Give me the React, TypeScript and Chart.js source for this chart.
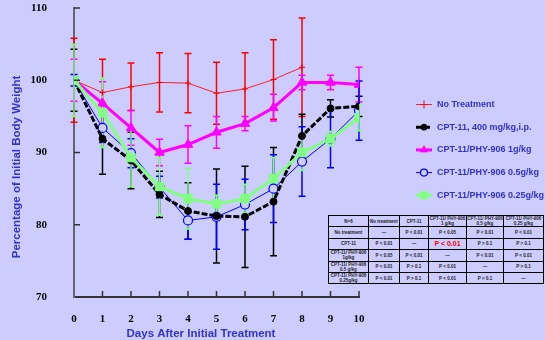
import React, { useEffect, useRef } from 'react';
import { Chart, registerables } from 'chart.js';
import { drawPoint } from 'chart.js/helpers';

Chart.register(...registerables);

// ---- data ----
const days = [0, 1, 2, 3, 4, 5, 6, 7, 8, 9, 10];
const yTickValues = [70, 80, 90, 100, 110];

const seriesNames = [
  'No Treatment',
  'CPT-11, 400 mg/kg,i.p.',
  'CPT-11/PHY-906 1g/kg',
  'CPT-11/PHY-906 0.5g/kg',
  'CPT-11/PHY-906 0.25g/kg',
];

const noTreatment = [100, 98.3, 99.1, 99.7, 99.6, 98.2, 98.8, 100.1, 101.8, null, null];
const noTreatmentErr = [5.8, 4.6, 3.3, 4.1, 4.1, 4.3, 5.0, 5.5, 6.8, null, null];
const cpt11 = [100, 91.9, 88.9, 84.2, 81.9, 81.2, 81.1, 83.2, 92.3, 96.1, 96.4];
const cpt11Err = [4.3, 4.9, 3.9, 3.2, 3.9, 6.5, 7.0, 7.5, 3.0, 1.2, 1.4];
const phy1g = [100, 96.8, 93.4, 90.0, 91.1, 92.8, 94.0, 96.2, 99.7, 99.7, 99.4];
const phy1gErr = [2.9, 3.0, 2.4, 1.85, 2.6, 2.2, 1.0, 1.85, 1.0, 1.0, 2.4];
const phy05 = [100, 93.4, 89.9, 85.2, 80.6, 81.1, 82.8, 85.0, 88.75, 91.9, 95.8];
const phy05Err = [0.8, 2.0, 2.0, 1.5, 2.6, 4.5, 3.5, 4.7, 4.8, 4.0, 4.1];
const phy025 = [100, 95.5, 89.3, 85.3, 83.6, 82.9, 83.6, 86.4, 90.0, 91.9, 94.8];
const phy025Err = [5.0, 4.8, 4.0, 4.0, 4.2, 1.2, 2.0, 2.9, 2.5, 1.0, 1.8];

const tableHeader = ['N=6', 'No treatment', 'CPT-11', 'CPT-11/ PHY-906 1 g/kg', 'CPT-11/ PHY-906 0.5 g/kg', 'CPT-11/ PHY-906 0.25 g/kg'];
const tableRows = [
  ['No treatment', '—', 'P < 0.01', 'P < 0.05', 'P < 0.01', 'P < 0.01'],
  ['CPT-11', 'P < 0.01', '—', 'P < 0.01', 'P > 0.1', 'P > 0.1'],
  ['CPT-11/ PHY-906 1g/kg', 'P < 0.05', 'P < 0.01', '—', 'P < 0.01', 'P < 0.01'],
  ['CPT-11/ PHY-906 0.5 g/kg', 'P < 0.01', 'P > 0.1', 'P < 0.01', '—', 'P > 0.1'],
  ['CPT-11/ PHY-906 0.25g/kg', 'P < 0.01', 'P > 0.1', 'P < 0.01', 'P > 0.1', '—'],
];

const BG = '#ccccff';
const TITLE_BLUE = '#3333cc';

const toXY = (vals: (number | null)[]) => days.map((d, i) => ({ x: d, y: vals[i] }));

const errorBarPlugin = {
  id: 'errorBars',
  beforeDatasetsDraw(chart: any) {
    const { ctx, scales } = chart;
    const xs = scales.x;
    const ys = scales.y;
    chart.data.datasets.forEach((ds: any) => {
      const errs = ds.errors as (number | null)[];
      if (!errs) return;
      ctx.save();
      ctx.strokeStyle = ds.errorColor;
      ctx.lineWidth = ds.errorWidth || 1.5;
      ds.data.forEach((p: any, i: number) => {
        const e = errs[i];
        if (p.y == null || e == null) return;
        const x = xs.getPixelForValue(p.x);
        const y1 = ys.getPixelForValue(p.y + e);
        const y2 = ys.getPixelForValue(p.y - e);
        ctx.beginPath();
        ctx.moveTo(x, y1);
        ctx.lineTo(x, y2);
        ctx.moveTo(x - 3.5, y1);
        ctx.lineTo(x + 3.5, y1);
        ctx.moveTo(x - 3.5, y2);
        ctx.lineTo(x + 3.5, y2);
        ctx.stroke();
      });
      ctx.restore();
    });
  },
};

const decorPlugin = {
  id: 'decor',
  beforeDraw(chart: any) {
    const { ctx, width, height } = chart;
    ctx.save();
    ctx.fillStyle = BG;
    ctx.fillRect(0, 0, width, height);
    ctx.restore();
  },
  afterDraw(chart: any) {
    const { ctx, scales, chartArea } = chart;
    const xs = scales.x;
    const ys = scales.y;
    ctx.save();
    // inward ticks
    ctx.strokeStyle = '#333';
    ctx.lineWidth = 1.5;
    yTickValues.forEach((v) => {
      if (v === 70) return;
      const y = ys.getPixelForValue(v);
      ctx.beginPath();
      ctx.moveTo(chartArea.left, y);
      ctx.lineTo(chartArea.left + 6, y);
      ctx.stroke();
    });
    days.forEach((d) => {
      if (d === 0) return;
      const x = xs.getPixelForValue(d);
      ctx.beginPath();
      ctx.moveTo(x, chartArea.bottom);
      ctx.lineTo(x, chartArea.bottom - 6);
      ctx.stroke();
    });

    // axis titles
    ctx.fillStyle = TITLE_BLUE;
    ctx.font = "bold 11.5px 'Liberation Sans', Arial, sans-serif";
    ctx.textAlign = 'center';
    ctx.textBaseline = 'middle';
    ctx.fillText('Days After Initial Treatment', 201, 334);
    ctx.save();
    ctx.translate(16.5, 167);
    ctx.rotate(-Math.PI / 2);
    ctx.fillText('Percentage of Initial Body Weight', 0, 0);
    ctx.restore();

    // legend
    const lx0 = 416;
    const lx1 = 432;
    const tx = 437;
    chart.data.datasets.forEach((ds: any, i: number) => {
      const y = 104.5 + i * 22.7;
      ctx.save();
      ctx.strokeStyle = ds.borderColor;
      ctx.lineWidth = ds.borderWidth;
      ctx.setLineDash(ds.borderDash || []);
      ctx.beginPath();
      ctx.moveTo(lx0, y);
      ctx.lineTo(lx1, y);
      ctx.stroke();
      ctx.setLineDash([]);
      ctx.fillStyle = ds.pointBackgroundColor;
      ctx.strokeStyle = ds.pointBorderColor;
      ctx.lineWidth = ds.pointBorderWidth;
      drawPoint(ctx, { pointStyle: ds.pointStyle, radius: ds.legendRadius ?? ds.pointRadius, borderWidth: ds.pointBorderWidth, rotation: 0 } as any, (lx0 + lx1) / 2, y);
      ctx.restore();
      ctx.fillStyle = TITLE_BLUE;
      ctx.font = "bold 9px 'Liberation Sans', Arial, sans-serif";
      ctx.textAlign = 'left';
      ctx.textBaseline = 'middle';
      ctx.fillText(seriesNames[i], tx, y);
    });
    ctx.restore();
  },
};

const tickFont = { family: "'Liberation Serif', 'Times New Roman', serif", size: 11, weight: 'bold' as const };

function PTable() {
  const colW = [40, 31, 29, 38, 37, 40];
  const cell: React.CSSProperties = {
    border: '1px solid #000',
    padding: 0,
    textAlign: 'center',
    verticalAlign: 'middle',
    fontFamily: "'Liberation Sans', Arial, sans-serif",
    fontWeight: 'bold',
    fontSize: '4.5px',
    lineHeight: '5px',
    color: '#222',
    height: '10.4px',
    overflow: 'hidden',
  };
  return (
    <table
      style={{
        position: 'absolute',
        left: 328,
        top: 215,
        width: 215,
        borderCollapse: 'collapse',
        tableLayout: 'fixed',
        border: '1.5px solid #000',
        background: BG,
      }}
    >
      <colgroup>
        {colW.map((w, i) => (
          <col key={i} style={{ width: w }} />
        ))}
      </colgroup>
      <tbody>
        <tr>
          {tableHeader.map((h, i) => (
            <td key={i} style={cell}>{h}</td>
          ))}
        </tr>
        {tableRows.map((r, ri) => (
          <tr key={ri}>
            {r.map((c, ci) => {
              const red = ri === 1 && ci === 3;
              return (
                <td key={ci} style={red ? { ...cell, color: '#ff0000', fontSize: '7px', lineHeight: '8px' } : cell}>
                  {c}
                </td>
              );
            })}
          </tr>
        ))}
      </tbody>
    </table>
  );
}

const zeroPad = (s: any) => {
  s.paddingTop = 0;
  s.paddingBottom = 0;
  s.paddingLeft = 0;
  s.paddingRight = 0;
};

export default function App() {
  const ref = useRef<HTMLCanvasElement | null>(null);
  useEffect(() => {
    document.body.style.margin = '0';
    if (!ref.current) return;
    const chart = new Chart(ref.current, {
      type: 'line',
      data: {
        datasets: [
          {
            label: seriesNames[0],
            data: toXY(noTreatment),
            order: 4,
            borderColor: '#ff2020',
            borderWidth: 1,
            pointStyle: 'cross',
            pointRadius: 3,
            pointBorderWidth: 1,
            pointBorderColor: '#ff0000',
            pointBackgroundColor: '#ff0000',
            errors: noTreatmentErr,
            errorColor: '#ff0000',
            errorWidth: 1.5,
            legendRadius: 4,
          } as any,
          {
            label: seriesNames[1],
            data: toXY(cpt11),
            order: 2,
            borderColor: '#000000',
            borderWidth: 3,
            borderDash: [6, 2],
            pointStyle: 'circle',
            pointRadius: 3.5,
            pointBorderWidth: 1,
            pointBorderColor: '#000000',
            pointBackgroundColor: '#000000',
            errors: cpt11Err,
            errorColor: '#000000',
            errorWidth: 1.5,
            legendRadius: 3,
          } as any,
          {
            label: seriesNames[2],
            data: toXY(phy1g),
            order: 1,
            borderColor: '#ff00ff',
            borderWidth: 3,
            pointStyle: 'triangle',
            pointRadius: 5.5,
            pointBorderWidth: 1,
            pointBorderColor: '#ff00ff',
            pointBackgroundColor: '#ff00ff',
            errors: phy1gErr,
            errorColor: '#ff00ff',
            errorWidth: 1.5,
            legendRadius: 4,
          } as any,
          {
            label: seriesNames[3],
            data: toXY(phy05),
            order: 3,
            borderColor: '#0000ff',
            borderWidth: 1,
            pointStyle: 'circle',
            pointRadius: 4.5,
            pointBorderWidth: 1.2,
            pointBorderColor: '#0000ff',
            pointBackgroundColor: BG,
            errors: phy05Err,
            errorColor: '#0000ff',
            errorWidth: 1.5,
            legendRadius: 3.5,
          } as any,
          {
            label: seriesNames[4],
            data: toXY(phy025),
            order: 0,
            borderColor: '#80ff80',
            borderWidth: 3,
            pointStyle: 'rect',
            pointRadius: 6,
            pointBorderWidth: 1,
            pointBorderColor: '#80ff80',
            pointBackgroundColor: '#80ff80',
            errors: phy025Err,
            errorColor: '#80ff80',
            errorWidth: 1.5,
            legendRadius: 5,
          } as any,
        ],
      },
      options: {
        responsive: false,
        animation: false,
        devicePixelRatio: 1,
        spanGaps: false,
        layout: { padding: { left: 0, top: 8, right: 186, bottom: 0 } },
        plugins: {
          legend: { display: false },
          tooltip: { enabled: false },
          title: { display: false },
        },
        scales: {
          x: {
            type: 'linear',
            min: 0,
            max: 10,
            grid: { display: false },
            border: { display: true, color: '#333', width: 2 },
            ticks: { stepSize: 1, font: tickFont, color: '#000', padding: 8, autoSkip: false, maxRotation: 0 },
            afterFit: (s: any) => {
              s.height = 43;
              zeroPad(s);
            },
          },
          y: {
            type: 'linear',
            min: 70,
            max: 110,
            grid: { display: false },
            border: { display: true, color: '#666', width: 2 },
            ticks: { stepSize: 10, font: tickFont, color: '#000', padding: 19 },
            afterFit: (s: any) => {
              s.width = 74;
              zeroPad(s);
            },
          },
        },
      },
      plugins: [decorPlugin, errorBarPlugin],
    });
    return () => chart.destroy();
  }, []);

  return (
    <div style={{ position: 'fixed', left: 0, top: 0, width: 545, height: 340, background: BG, overflow: 'hidden' }}>
      <canvas ref={ref} width={545} height={340} style={{ display: 'block' }} />
      <PTable />
    </div>
  );
}
